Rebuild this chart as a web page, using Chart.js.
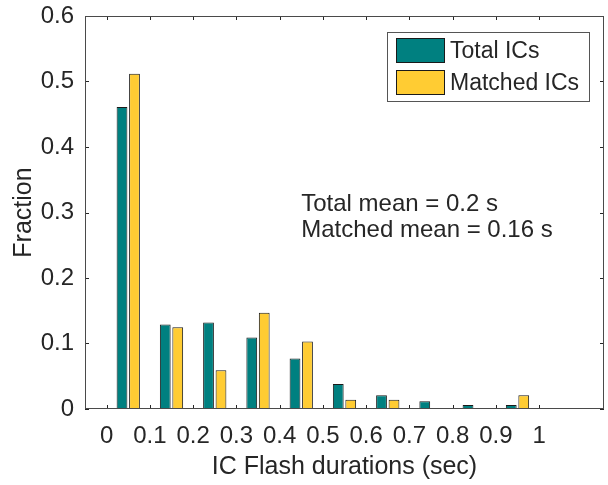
<!DOCTYPE html>
<html><head><meta charset="utf-8">
<script src="https://cdn.jsdelivr.net/npm/chart.js@4.4.1/dist/chart.umd.min.js"></script>
<style>html,body{margin:0;padding:0;background:#fff}#wrap{width:608px;height:485px}</style>
</head><body><div id="wrap"><canvas id="c" width="608" height="485"></canvas></div>
<script>
// ---- data ----
const binCenters = [0.05, 0.15, 0.25, 0.35, 0.45, 0.55, 0.65, 0.75, 0.85, 0.95];
const totalICs   = [0.461, 0.129, 0.132, 0.109, 0.077, 0.038, 0.021, 0.012, 0.006, 0.006];
const matchedICs = [0.512, 0.125, 0.059, 0.147, 0.103, 0.014, 0.014, 0, 0, 0.021];
const xTicks = [0, 0.1, 0.2, 0.3, 0.4, 0.5, 0.6, 0.7, 0.8, 0.9, 1];
const yTicks = [0, 0.1, 0.2, 0.3, 0.4, 0.5, 0.6];
const seriesNames = ['Total ICs', 'Matched ICs'];
const xTitle = 'IC Flash durations (sec)';
const yTitle = 'Fraction';
const annotationLines = ['Total mean = 0.2 s', 'Matched mean = 0.16 s'];
const annotationAt = { x: 0.45, y: 0.3 };

const FONT = "'Liberation Sans', Arial, Helvetica, sans-serif";
const TXT = '#262626';
const fmt = v => (v === 0 ? '0' : v === 1 ? '1' : v.toFixed(1));

const decor = {
  id: 'decor',
  beforeDatasetsDraw(chart) {
    const { ctx, chartArea: a, scales: { x, y } } = chart;
    ctx.save();
    ctx.strokeStyle = '#262626';
    ctx.lineWidth = 1;
    ctx.beginPath();
    xTicks.forEach(v => {
      const px = Math.round(x.getPixelForValue(v)) + 0.5;
      ctx.moveTo(px, a.bottom); ctx.lineTo(px, a.bottom - 4);
      ctx.moveTo(px, a.top); ctx.lineTo(px, a.top + 4);
    });
    yTicks.forEach(v => {
      const py = Math.round(y.getPixelForValue(v)) + 0.5;
      ctx.moveTo(a.left, py); ctx.lineTo(a.left + 4, py);
      ctx.moveTo(a.right, py); ctx.lineTo(a.right - 4, py);
    });
    ctx.stroke();
    ctx.restore();
  },
  afterDatasetsDraw(chart) {
    const { ctx, chartArea: a, scales: { x, y } } = chart;
    ctx.save();
    // axes box
    ctx.strokeStyle = '#4a4a4a';
    ctx.lineWidth = 1;
    ctx.strokeRect(Math.round(a.left) + 0.5, Math.round(a.top) + 0.5,
                   Math.round(a.right - a.left) - 1, Math.round(a.bottom - a.top) - 1);
    // legend
    const lx = 387.5, ly = 32.5, lw = 202, lh = 69;
    ctx.fillStyle = '#fff';
    ctx.fillRect(lx, ly, lw, lh);
    ctx.strokeStyle = '#555';
    ctx.strokeRect(lx, ly, lw, lh);
    chart.data.datasets.forEach((ds, i) => {
      const sy = 38.5 + i * 32;
      ctx.fillStyle = ds.backgroundColor;
      ctx.fillRect(396.5, sy, 48, 24);
      ctx.strokeStyle = '#1a1a1a';
      ctx.strokeRect(396.5, sy, 48, 24);
      ctx.fillStyle = TXT;
      ctx.font = '23px ' + FONT;
      ctx.textBaseline = 'middle';
      ctx.textAlign = 'left';
      ctx.fillText(ds.label, 450, sy + 13);
    });
    // annotation text
    const tx = x.getPixelForValue(annotationAt.x);
    const ty = y.getPixelForValue(annotationAt.y);
    ctx.font = '24px ' + FONT;
    ctx.fillStyle = TXT;
    ctx.textBaseline = 'alphabetic';
    ctx.textAlign = 'left';
    annotationLines.forEach((t, i) => ctx.fillText(t, tx, ty - 2 + i * 26.7));
    ctx.restore();
  }
};

new Chart(document.getElementById('c'), {
  type: 'bar',
  data: {
    datasets: [
      { label: seriesNames[0], data: binCenters.map((c, i) => ({ x: c, y: totalICs[i] })),
        backgroundColor: '#008080', borderColor: '#1a1a1a', borderWidth: 1, borderSkipped: false,
        categoryPercentage: 0.577, barPercentage: 0.864 },
      { label: seriesNames[1], data: binCenters.map((c, i) => ({ x: c, y: matchedICs[i] })),
        backgroundColor: '#FFCC33', borderColor: '#1a1a1a', borderWidth: 1, borderSkipped: false,
        categoryPercentage: 0.577, barPercentage: 0.864 }
    ]
  },
  options: {
    responsive: false,
    devicePixelRatio: 1,
    animation: false,
    layout: { padding: { top: 16, right: 4, left: 0, bottom: 0 } },
    plugins: { legend: { display: false }, tooltip: { enabled: false } },
    scales: {
      x: {
        type: 'linear', min: -0.05, max: 1.15, offset: false,
        grid: { display: false, drawTicks: false }, border: { display: false },
        afterBuildTicks: s => { s.ticks = xTicks.map(v => ({ value: v })); },
        afterFit: s => { s.height = 76; s.paddingLeft = 0; s.paddingRight = 0; },
        ticks: { callback: v => fmt(v), color: TXT, font: { family: FONT, size: 24 },
                 padding: 13, maxRotation: 0, autoSkip: false },
        title: { display: true, text: xTitle, color: TXT, font: { family: FONT, size: 25 },
                 padding: { top: 0, bottom: 3 } }
      },
      y: {
        min: 0, max: 0.6,
        grid: { display: false, drawTicks: false }, border: { display: false },
        afterBuildTicks: s => { s.ticks = yTicks.map(v => ({ value: v })); },
        afterFit: s => { s.width = 85; s.paddingTop = 0; s.paddingBottom = 0; },
        ticks: { callback: v => fmt(v), color: TXT, font: { family: FONT, size: 24 }, padding: 11 },
        title: { display: true, text: yTitle, color: TXT, font: { family: FONT, size: 25 },
                 padding: { top: 9, bottom: 0 } }
      }
    }
  },
  plugins: [decor]
});
</script></body></html>
